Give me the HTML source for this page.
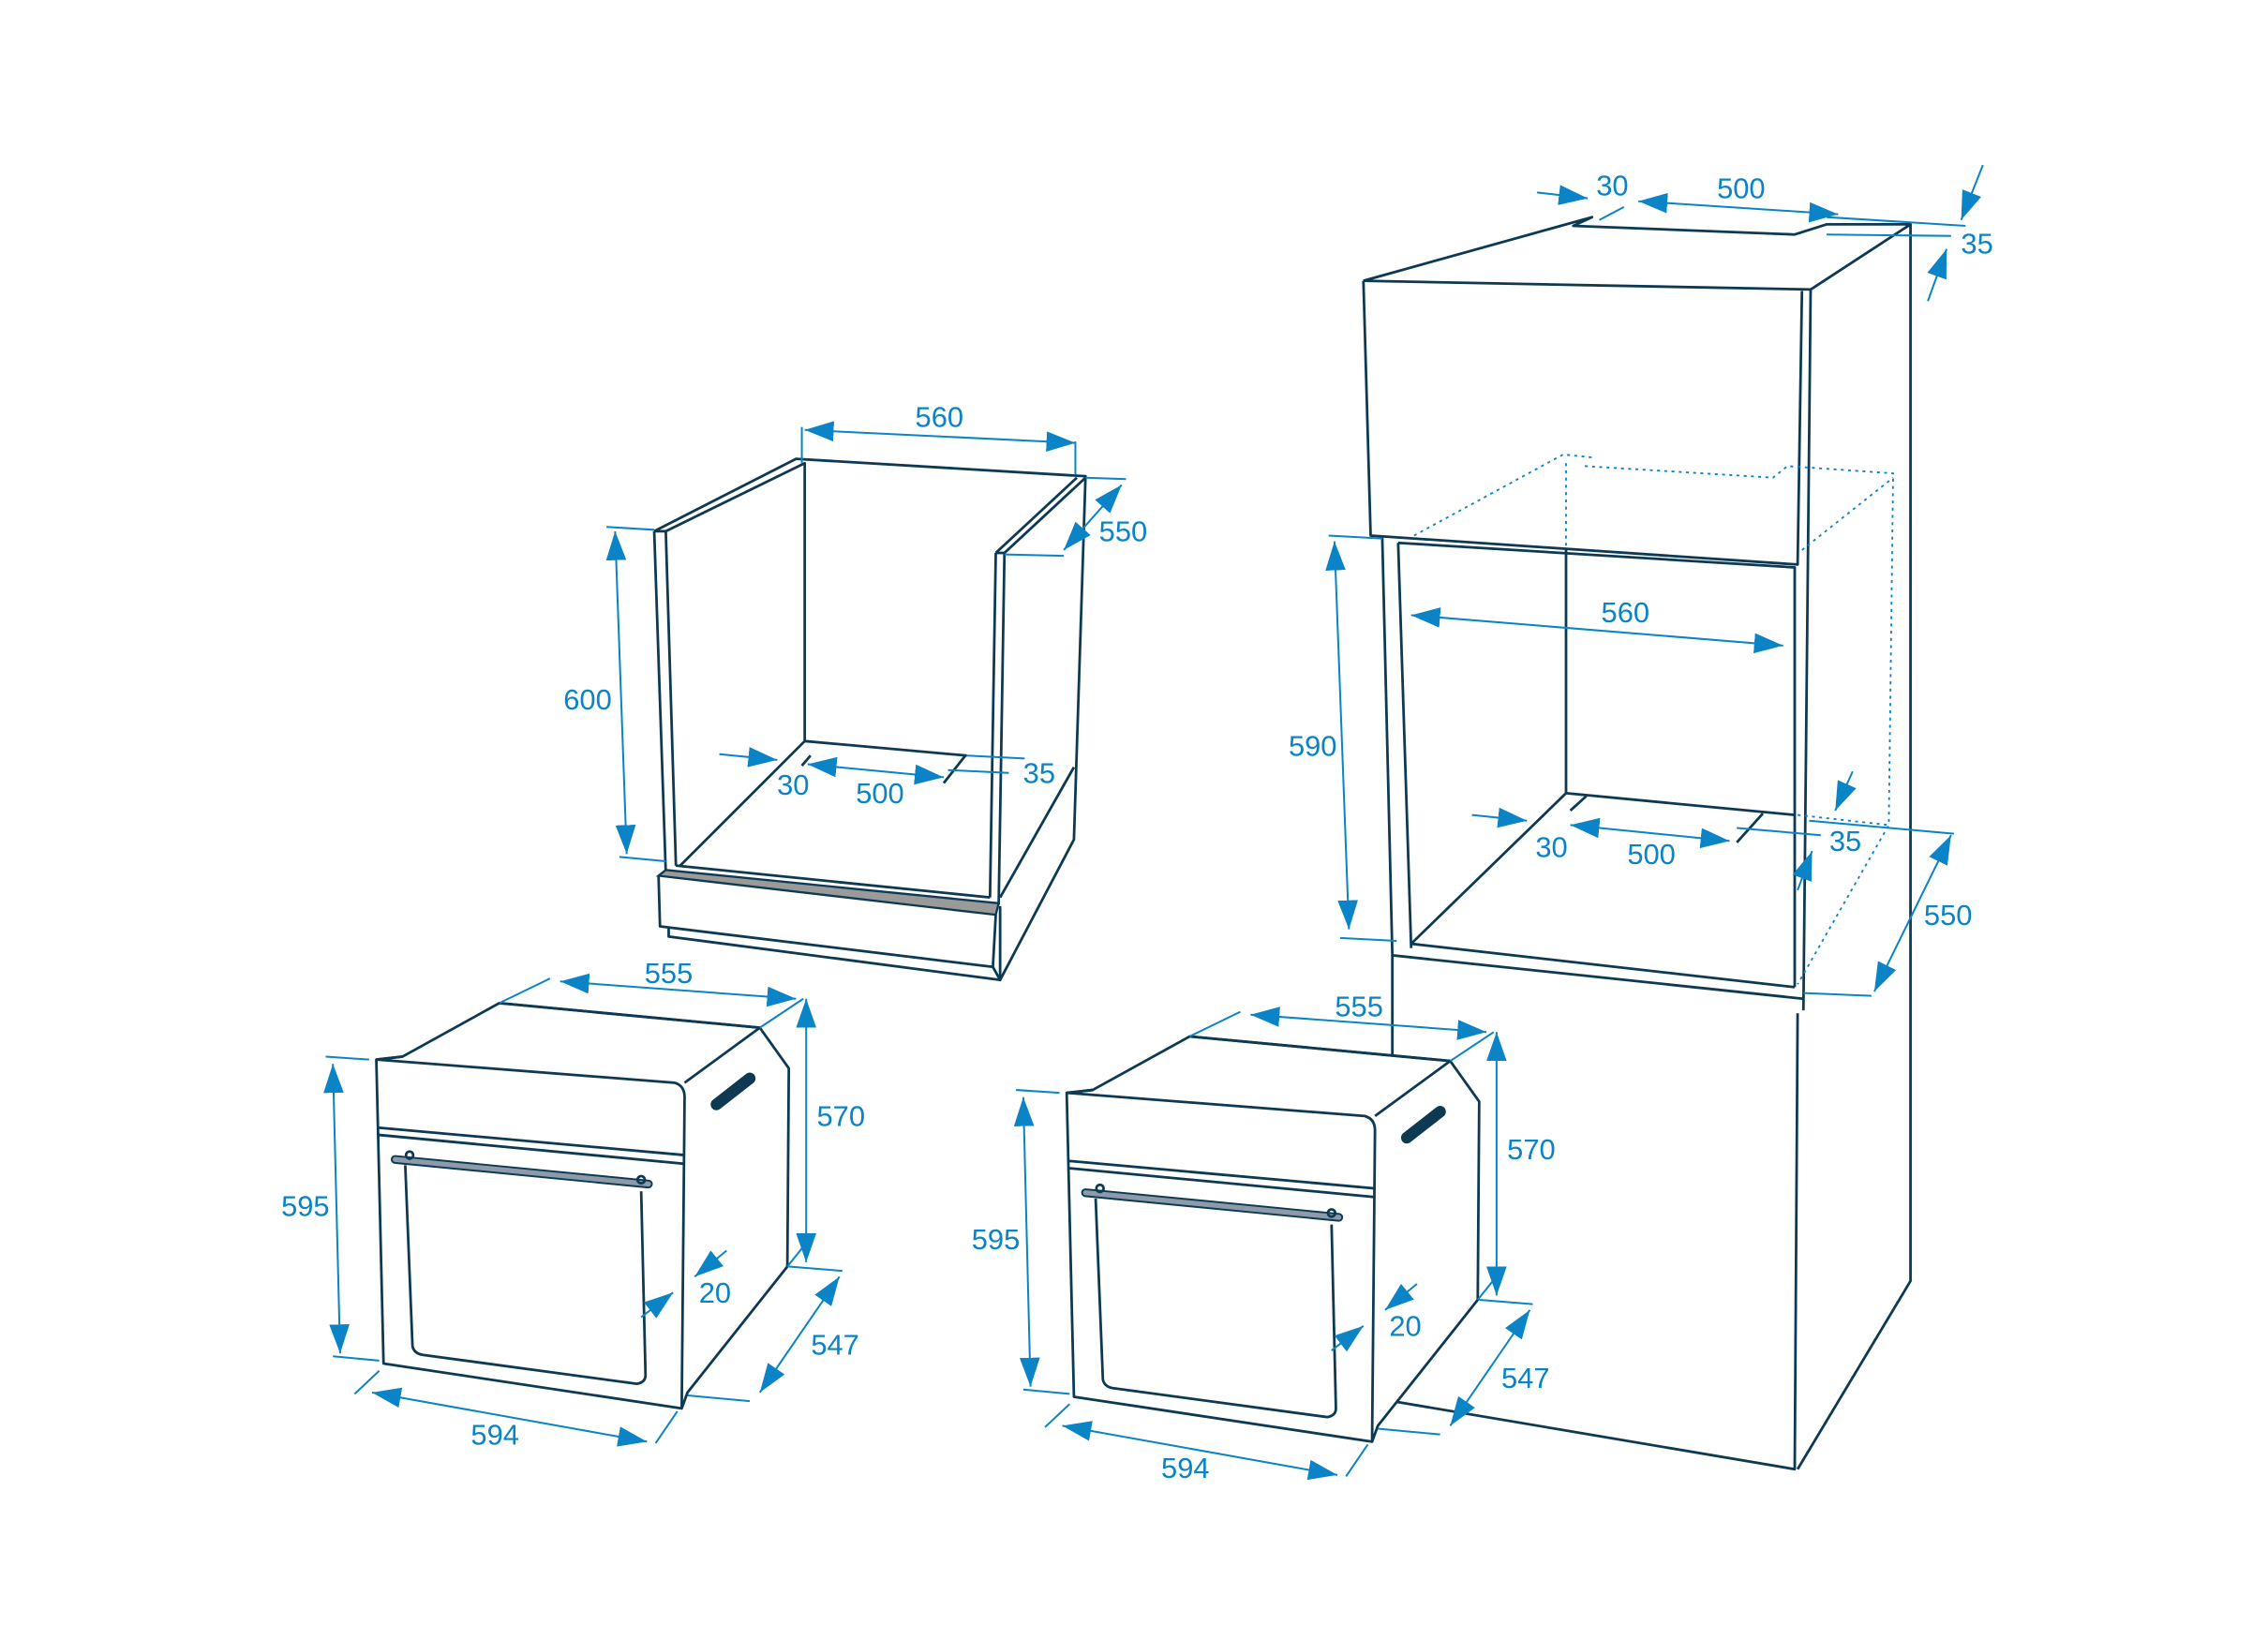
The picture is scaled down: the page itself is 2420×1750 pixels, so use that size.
<!DOCTYPE html>
<html><head><meta charset="utf-8"><style>
html,body{margin:0;padding:0;background:#fff;}
svg{display:block;}
text{font-family:"Liberation Sans",sans-serif;font-size:20px;fill:#0a84c6;text-anchor:middle;}
.d{stroke:#0d3a52;stroke-width:1.8;fill:none;stroke-linejoin:round;}
.w{stroke:#0d3a52;stroke-width:1.8;fill:#fff;stroke-linejoin:round;}
.b{stroke:#0a84c6;stroke-width:1.3;fill:none;}
.a{stroke:#0a84c6;stroke-width:1.3;fill:none;marker-start:url(#m);marker-end:url(#m);}
.a1{stroke:#0a84c6;stroke-width:1.3;fill:none;marker-end:url(#m);}
.dot{stroke:#0a84c6;stroke-width:1.2;fill:none;stroke-dasharray:2 3;}
</style></head><body>
<svg width="2420" height="1750" viewBox="0 0 1567 1133" preserveAspectRatio="none">
<defs>
<marker id="m" viewBox="0 0 20 14" refX="20" refY="7" markerWidth="20" markerHeight="14" markerUnits="userSpaceOnUse" orient="auto-start-reverse">
<path d="M0,0 L20,7 L0,14 Z" fill="#0a84c6"/></marker>
</defs>

<!-- LEFT CABINET -->
<g>
<path class="d" d="M452,367 L550,317 L750,329 L742,580 L691,677 L686,668"/>
<path class="d" d="M460,367 L556,320 L556,512"/>
<path class="d" d="M452,367 L460,603 M460,367 L467,598"/>
<path class="d" d="M452,367 L460,367"/>
<path class="d" d="M688,382 L684,620 M694,382 L690,625 M688,382 L744,330 M694,382 L750,330 M688,382 L694,382"/>
<path class="d" d="M742,530 L691,620"/>
<path class="d" d="M556,512 L470,598 M556,512 L668,522 M467,598 L684,620"/>
<path d="M455,605 L460,601 L690,624 L688,632 Z" fill="#9a9a9a" stroke="#0d3a52" stroke-width="1.5"/>
<path class="d" d="M455,605 L456,640 L686,668 L688,632 M462,641 L462,647 L691,677 L691,626"/>
<path class="d" d="M560,522 L554,529 M667,522 L652,541"/>
<path class="b" d="M554,295 L554,320 M743,305 L743,328"/>
<path class="a" d="M556,297 L743,306"/>
<text x="649" y="295">560</text>
<path class="b" d="M750,330 L778,331 M694,383 L735,384"/>
<path class="a" d="M775,335 L735,380"/>
<text x="776" y="374">550</text>
<path class="b" d="M419,364 L452,366 M428,592 L460,595"/>
<path class="a" d="M425,367 L433,590"/>
<text x="406" y="490">600</text>
<path class="a1" d="M497,521 L537,525"/>
<text x="548" y="549">30</text>
<path class="a" d="M558,528 L652,537"/>
<text x="608" y="555">500</text>
<path class="b" d="M668,522 L708,524 M655,532 L697,534"/>
<text x="718" y="541">35</text>
</g>

<!-- RIGHT TALL CABINET -->
<g>
<path class="d" d="M942,194 L1100,150 L1087,156 L1240,162 L1262,155 L1320,155 L1251,200"/>
<path class="d" d="M942,194 L1251,200 L1246,698"/>
<path class="d" d="M942,194 L947,370 L1242,390 L1245,201"/>
<path class="d" d="M1320,155 L1320,885 L1242,1015"/>
<path class="d" d="M955,370 L962,660 L1246,690 M966,375 L975,655 M966,375 L1240,392 L1240,682"/>
<path class="d" d="M1082,380 L1082,548 L975,652 M1082,548 L1240,563 M975,652 L1240,682"/>
<path class="d" d="M1096,550 L1085,560 M1218,562 L1200,582"/>
<path class="d" d="M962,660 L962,730 M962,968 L1240,1015 L1242,700"/>
<path class="dot" d="M977,370 L1080,314 L1100,316 M1095,322 L1225,330 L1235,322 L1308,327 L1305,570 L1242,680 M1082,320 L1082,380 M1245,380 L1308,330 M1242,563 L1305,570"/>
<path class="a" d="M975,425 L1232,446"/>
<text x="1123" y="430">560</text>
<path class="b" d="M918,370 L955,372 M926,648 L965,650"/>
<path class="a" d="M922,374 L932,642"/>
<text x="907" y="522">590</text>
<path class="b" d="M1250,567 L1350,576 M1246,686 L1293,688"/>
<path class="a" d="M1348,577 L1295,685"/>
<text x="1346" y="639">550</text>
<path class="a1" d="M1017,563 L1055,567"/>
<text x="1072" y="592">30</text>
<path class="a" d="M1085,570 L1195,581"/>
<text x="1141" y="597">500</text>
<path class="b" d="M1200,572 L1258,577"/>
<path class="a1" d="M1280,533 L1268,560"/>
<path class="a1" d="M1242,615 L1252,588"/>
<text x="1275" y="588">35</text>
<path class="a1" d="M1062,133 L1097,137"/>
<path class="b" d="M1105,152 L1122,143"/>
<text x="1114" y="135">30</text>
<path class="a" d="M1132,139 L1270,148"/>
<text x="1203" y="137">500</text>
<path class="b" d="M1262,150 L1358,156 M1262,162 L1348,163"/>
<path class="a1" d="M1370,114 L1355,152"/>
<path class="a1" d="M1332,208 L1345,172"/>
<text x="1366" y="175">35</text>
</g>

<g id="oven">
<path class="w" d="M278,730 L345,693 L525,710 L545,738 L544,875 L475,962 L471,973 L265,942 L260,732 Z"/>
<path class="d" d="M260,732 L466,748 Q473,750 473,758 L471,973"/>
<path class="d" d="M525,710 L473,748 M278,730 L260,732 M345,693 L525,710"/>
<path class="d" d="M261,779 L473,798 M261,784 L473,804"/>
<path class="d" d="M280,805 L285,930 Q286,935 292,936 L440,956 Q446,955 446,950 L443,823"/>
<path d="M273,801 L448,818" stroke="#0d3a52" stroke-width="6" stroke-linecap="round"/>
<path d="M273,801 L448,818" stroke="#8d9aaa" stroke-width="3.5" stroke-linecap="round"/>
<circle cx="283" cy="798" r="2.5" class="d"/><circle cx="443" cy="815" r="2.5" class="d"/>
<path d="M495,763 L518,745" stroke="#0d3a52" stroke-width="8" stroke-linecap="round"/>
<path class="b" d="M345,693 L380,676 M525,710 L555,690"/>
<path class="a" d="M387,678 L550,690"/>
<text x="462" y="679">555</text>
<path class="a" d="M557,690 L557,872"/>
<path class="b" d="M544,875 L560,855"/>
<text x="581" y="778">570</text>
<path class="b" d="M225,730 L255,732 M230,937 L262,940"/>
<path class="a" d="M230,735 L235,935"/>
<text x="211" y="840">595</text>
<path class="b" d="M245,963 L262,947 M453,997 L468,975"/>
<path class="a" d="M257,962 L447,996"/>
<text x="342" y="998">594</text>
<path class="b" d="M545,875 L582,878 M475,964 L518,968"/>
<path class="a" d="M580,882 L525,962"/>
<text x="577" y="936">547</text>
<path class="a1" d="M502,864 L480,882"/>
<path class="a1" d="M443,910 L465,893"/>
<text x="494" y="900">20</text>
</g>
<use href="#oven" transform="translate(477,23)"/>
</svg>
</body></html>
